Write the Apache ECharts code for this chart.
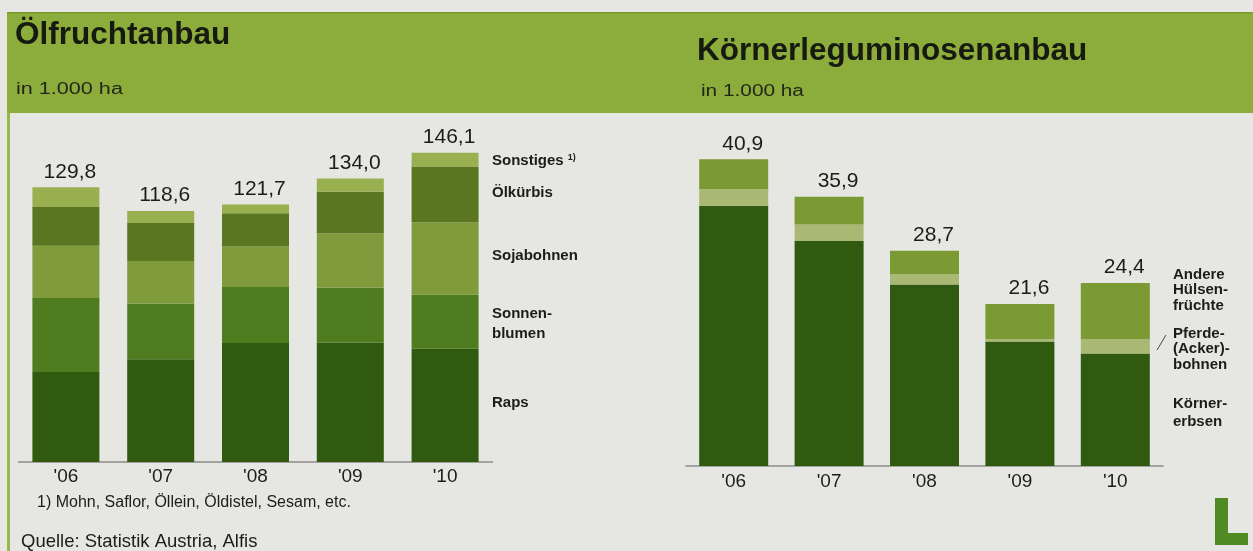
<!DOCTYPE html>
<html><head><meta charset="utf-8">
<script src="https://cdn.jsdelivr.net/npm/echarts@6/dist/echarts.min.js"></script>
<style>html,body{margin:0;padding:0;background:#e6e6e3;}#c{width:1253px;height:551px;}</style>
</head><body><div id="c"></div>
<script>
// Left chart: Ölfruchtanbau (in 1.000 ha)
const yearsL = ["'06", "'07", "'08", "'09", "'10"];
const raps      = [42.5, 48.5, 56.2, 56.5, 53.5];
const sonnen    = [35.0, 26.4, 26.5, 25.8, 25.5];
const soja      = [24.7, 20.1, 19.2, 25.7, 34.3];
const oelkuerbis= [18.3, 17.9, 15.7, 19.7, 26.3];
const sonstiges = [9.3, 5.7, 4.1, 6.3, 6.5];
const totalsL   = [129.8, 118.6, 121.7, 134.0, 146.1];

// Right chart: Körnerleguminosenanbau (in 1.000 ha)
const yearsR = ["'06", "'07", "'08", "'09", "'10"];
const koernererbsen = [34.7, 30.0, 24.2, 16.6, 15.0];
const pferdebohnen  = [2.2, 2.2, 1.4, 0.3, 1.9];
const andere        = [4.0, 3.7, 3.1, 4.7, 7.5];
const totalsR       = [40.9, 35.9, 28.7, 21.6, 24.4];

const fmt = v => v.toFixed(1).replace('.', ',');
const FONT = 'Liberation Sans, Arial, sans-serif';
const TXT = '#1c1c1c';

const chart = echarts.init(document.getElementById('c'), null, {renderer: 'canvas'});

function seg(name, data, color, gridIdx, stack, labelTotals) {
  const s = {
    name, type: 'bar', stack, data,
    xAxisIndex: gridIdx, yAxisIndex: gridIdx,
    barWidth: gridIdx === 0 ? 67 : 69,
    itemStyle: {color},
    emphasis: {disabled: true},
    animation: false
  };
  if (labelTotals) {
    s.label = {show: true, position: 'top', distance: gridIdx === 0 ? 5 : 5,
      offset: gridIdx === 0 ? [4, 0] : [9, 0],
      fontFamily: FONT, fontSize: 21,
      color: TXT, formatter: p => fmt(labelTotals[p.dataIndex])};
  }
  return s;
}

function t(x, y, text, opts) {
  const o = Object.assign({fontSize: 15, weight: 'bold', lh: 16, sx: 1}, opts || {});
  return {type: 'text', x, y, scaleX: o.sx, z: 10,
    style: {text, x: 0, y: 0, fontFamily: FONT, fontSize: o.fontSize, fontWeight: o.weight,
      fill: o.fill || TXT, lineHeight: o.lh, verticalAlign: 'middle', align: 'left'}};
}

chart.setOption({
  backgroundColor: '#e6e6e3',
  animation: false,
  grid: [
    {left: 18.5, width: 474, top: 462 - 423.2, height: 423.2},
    {left: 686, width: 477, top: 466 - 375, height: 375}
  ],
  xAxis: [
    {type: 'category', gridIndex: 0, data: yearsL,
     axisLine: {lineStyle: {color: '#8c8c8c', width: 1.5}}, axisTick: {show: false},
     axisLabel: {fontFamily: FONT, fontSize: 19, color: TXT, margin: 5}},
    {type: 'category', gridIndex: 1, data: yearsR,
     axisLine: {lineStyle: {color: '#8c8c8c', width: 1.5}}, axisTick: {show: false},
     axisLabel: {fontFamily: FONT, fontSize: 19, color: TXT, margin: 6}}
  ],
  yAxis: [
    {type: 'value', gridIndex: 0, min: 0, max: 200, show: false, splitLine: {show: false}},
    {type: 'value', gridIndex: 1, min: 0, max: 50, show: false, splitLine: {show: false}}
  ],
  series: [
    seg('Raps', raps, '#2f5a10', 0, 'L'),
    seg('Sonnenblumen', sonnen, '#4f7c1e', 0, 'L'),
    seg('Sojabohnen', soja, '#7f9b3c', 0, 'L'),
    seg('Ölkürbis', oelkuerbis, '#5b7620', 0, 'L'),
    seg('Sonstiges', sonstiges, '#98b050', 0, 'L', totalsL),
    seg('Körnererbsen', koernererbsen, '#2f5a10', 1, 'R'),
    seg('Pferde-(Acker)-bohnen', pferdebohnen, '#a9b872', 1, 'R'),
    seg('Andere Hülsenfrüchte', andere, '#7b9a34', 1, 'R', totalsR)
  ],
  graphic: [
    // header band
    {type: 'rect', shape: {x: 7, y: 12, width: 1246, height: 101}, style: {fill: '#8cad3b'}, z: -10},
    {type: 'rect', shape: {x: 7, y: 12, width: 1246, height: 1.5}, style: {fill: '#7a9a30'}, z: -9},
    // left vertical border
    {type: 'rect', shape: {x: 7, y: 113, width: 3, height: 438}, style: {fill: '#9ab84a'}, z: -9},
    t(15, 35, 'Ölfruchtanbau', {fontSize: 31.5, fill: '#171a10'}),
    t(16, 90, 'in 1.000 ha', {fontSize: 16, weight: 'normal', sx: 1.35, fill: '#22261a'}),
    t(697, 51, 'Körnerleguminosenanbau', {fontSize: 31.5, fill: '#171a10'}),
    t(701, 92, 'in 1.000 ha', {fontSize: 16, weight: 'normal', sx: 1.3, fill: '#22261a'}),
    // left legend
    {type: 'text', x: 492, y: 161, z: 10, style: {x: 0, y: 0, verticalAlign: 'middle',
      rich: {a: {fontFamily: FONT, fontSize: 15, fontWeight: 'bold', fill: TXT},
             s: {fontFamily: FONT, fontSize: 9, fontWeight: 'bold', fill: TXT, padding: [0, 0, 7, 0]}},
      text: '{a|Sonstiges }{s|1)}'}},
    t(492, 193, 'Ölkürbis'),
    t(492, 256, 'Sojabohnen'),
    t(492, 324, 'Sonnen-\nblumen', {lh: 20}),
    t(492, 403, 'Raps'),
    // right legend
    t(1173, 290, 'Andere\nHülsen-\nfrüchte', {lh: 15.5}),
    t(1173, 349, 'Pferde-\n(Acker)-\nbohnen', {lh: 15.5}),
    t(1173, 413, 'Körner-\nerbsen', {lh: 18}),
    {type: 'line', shape: {x1: 1157, y1: 350, x2: 1166, y2: 335}, style: {stroke: '#444', lineWidth: 1}},
    // footnotes
    t(37, 503, '1) Mohn, Saflor, Öllein, Öldistel, Sesam, etc.', {fontSize: 16, weight: 'normal'}),
    t(21, 542, 'Quelle: Statistik Austria, Alfis', {fontSize: 18.5, weight: 'normal'}),
    // logo "L"
    {type: 'rect', shape: {x: 1215, y: 498, width: 13, height: 47}, style: {fill: '#4f8a22'}},
    {type: 'rect', shape: {x: 1215, y: 533, width: 33, height: 12}, style: {fill: '#4f8a22'}}
  ]
});
</script></body></html>
